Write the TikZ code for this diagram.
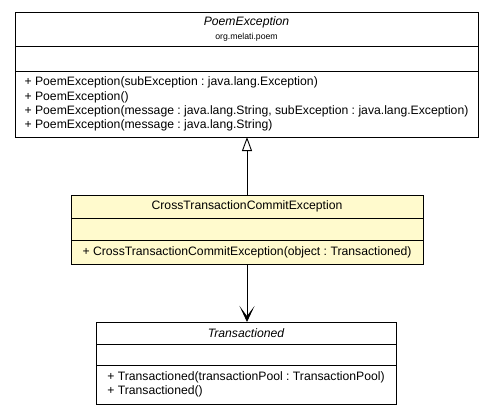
\documentclass[tikz,border=0pt]{standalone}
\usepackage{fontspec}
\setmainfont{Liberation Sans}
\usetikzlibrary{positioning,arrows.meta}
\definecolor{classyellow}{RGB}{255,250,205}
\frenchspacing
\tikzset{
  compart/.style={draw=black, line width=0.9pt, fill=white, inner sep=0pt, outer sep=0pt,
    anchor=north, font=\fontsize{12.2}{14.3}\selectfont},
  opsbox/.style={compart, align=left},
  inherit/.style={line width=0.9pt, -{Triangle[open, length=14pt, width=10pt, line width=0.9pt]}},
  depend/.style={line width=0.9pt, -{Stealth[length=16pt, width=15pt, inset=10pt]}},
}
\begin{document}
\begin{tikzpicture}[x=1pt,y=-1pt]
  \useasboundingbox (0,0) rectangle (493,416);

  % Class PoemException
  \node [compart, minimum width=463, minimum height=34, align=center] (poemTitle) at (246.5,12)
    {{\itshape PoemException}\\[-0.5pt]{\fontsize{8.7}{10}\selectfont org.melati.poem}};
  \node [compart, minimum width=463, minimum height=25] (poemAttr) at (poemTitle.south) {};
  \node [opsbox, minimum width=463, minimum height=66] (poemOps) at (poemAttr.south)
    {+ PoemException(subException : java.lang.Exception)\\
     + PoemException()\\
     + PoemException(message : java.lang.String, subException : java.lang.Exception)\\
     + PoemException(message : java.lang.String)};

  % Class CrossTransactionCommitException
  \node [compart, fill=classyellow, minimum width=352, minimum height=23] (crossTitle) at (247,195)
    {CrossTransactionCommitException};
  \node [compart, fill=classyellow, minimum width=352, minimum height=22] (crossAttr) at (crossTitle.south) {};
  \node [opsbox, fill=classyellow, minimum width=352, minimum height=24] (crossOps) at (crossAttr.south)
    {+ CrossTransactionCommitException(object : Transactioned)};

  % Class Transactioned
  \node [compart, minimum width=300, minimum height=22] (transTitle) at (246,322)
    {\itshape Transactioned};
  \node [compart, minimum width=300, minimum height=21] (transAttr) at (transTitle.south) {};
  \node [opsbox, minimum width=300, minimum height=39] (transOps) at (transAttr.south)
    {+ Transactioned(transactionPool : TransactionPool)\\
     + Transactioned()};

  % Drawing generalization and dependency
  \draw [inherit] (crossTitle.north) -- (crossTitle.north |- poemOps.south);
  \draw [depend] (crossOps.south) -- (crossOps.south |- transTitle.north);
\end{tikzpicture}
\end{document}
